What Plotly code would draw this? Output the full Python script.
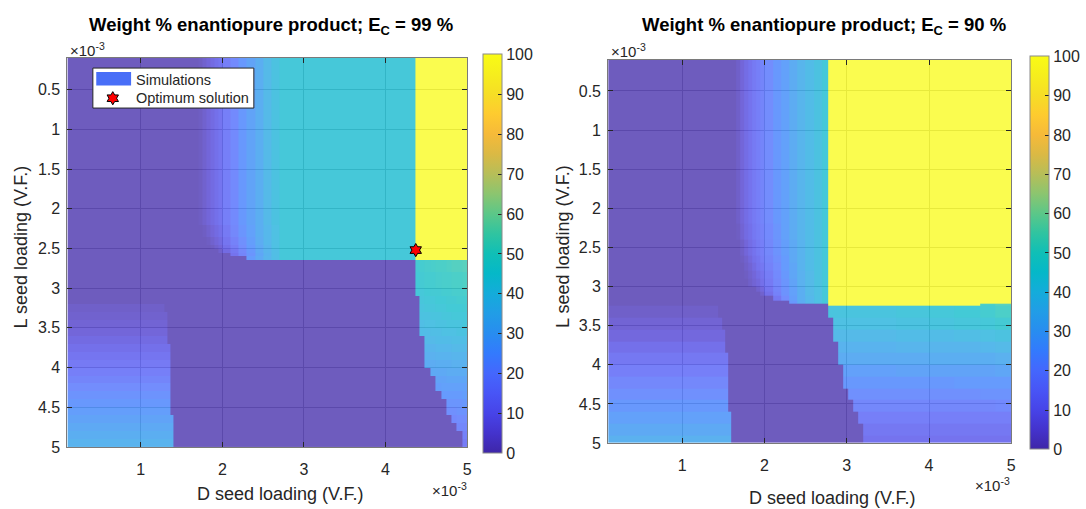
import plotly.graph_objects as go

# ---------------- data (units of 1e-3 volume fraction) ----------------
# Left panel, E_C = 99 %  : cell edges along D (x) and L (y)
d_edges_99 = [0.1, 1.29, 1.33, 1.36, 1.4, 1.6, 1.65, 1.7, 1.75, 1.8, 1.85, 1.9, 1.95, 2.0,
              2.1, 2.2, 2.3, 2.4, 2.5, 2.6, 2.7, 4.36, 4.42, 4.48, 4.55, 4.61, 4.68, 4.74,
              4.81, 4.87, 4.94, 5.0]
l_edges_99 = [0.1, 2.2, 2.35, 2.45, 2.5, 2.55, 2.6, 2.64, 2.8, 3.0, 3.1, 3.2, 3.3, 3.4, 3.5,
              3.6, 3.7, 3.8, 3.9, 4.0, 4.1, 4.2, 4.3, 4.4, 4.5, 4.6, 4.7, 4.8, 4.9, 5.0]
wt_99 = [
    [0,0,0,0,0,0,0,1,3,5,7,9,11,15,19,24,28,32,37,41,44, 100,100,100,100,100,100,100,100,100,100],
    [0,0,0,0,0,0,0,0,1,3,5,7,9,13,18,23,27,32,36,40,44, 100,100,100,100,100,100,100,100,100,100],
    [0,0,0,0,0,0,0,0,0,1,3,5,7,11,16,21,26,31,36,40,44, 100,100,100,100,100,100,100,100,100,100],
    [0,0,0,0,0,0,0,0,0,0,1,3,5,9,14,20,25,30,35,40,44, 100,100,100,100,100,100,100,100,100,100],
    [0,0,0,0,0,0,0,0,0,0,0,0,3,7,12,18,24,30,35,39,44, 100,100,100,100,100,100,100,100,100,100],
    [0,0,0,0,0,0,0,0,0,0,0,0,0,0,10,17,23,29,34,39,44, 100,100,100,100,100,100,100,100,100,100],
    [0,0,0,0,0,0,0,0,0,0,0,0,0,0,0,0,25,30,35,39,44, 100,100,100,100,100,100,100,100,100,100],
    [0,0,0,0, 0,0,0,0,0,0,0,0,0,0,0,0,0,0,0,0,0, 46,47,48,49,50,50,51,52,52,53],
    [0,0,0,0, 0,0,0,0,0,0,0,0,0,0,0,0,0,0,0,0,0, 45,46,47,47,48,49,49,50,50,51],
    [0,0,0,0, 0,0,0,0,0,0,0,0,0,0,0,0,0,0,0,0,0, 44,44,45,46,46,47,47,48,48,49],
    [0,0,0,0, 0,0,0,0,0,0,0,0,0,0,0,0,0,0,0,0,0, 0,43,44,44,45,45,46,46,47,47],
    [2,0,0,0, 0,0,0,0,0,0,0,0,0,0,0,0,0,0,0,0,0, 0,42,43,43,44,44,45,45,45,46],
    [3,3,0,0, 0,0,0,0,0,0,0,0,0,0,0,0,0,0,0,0,0, 0,41,41,42,42,43,43,44,44,44],
    [4,4,0,0, 0,0,0,0,0,0,0,0,0,0,0,0,0,0,0,0,0, 0,39,40,40,41,41,42,42,42,43],
    [5,5,0,0, 0,0,0,0,0,0,0,0,0,0,0,0,0,0,0,0,0, 0,38,38,39,39,40,40,40,41,41],
    [7,7,0,0, 0,0,0,0,0,0,0,0,0,0,0,0,0,0,0,0,0, 0,0,37,37,38,38,38,39,39,39],
    [9,9,9,0, 0,0,0,0,0,0,0,0,0,0,0,0,0,0,0,0,0, 0,0,35,35,36,36,36,37,37,37],
    [11,11,11,0, 0,0,0,0,0,0,0,0,0,0,0,0,0,0,0,0,0, 0,0,33,33,34,34,34,35,35,35],
    [13,13,13,0, 0,0,0,0,0,0,0,0,0,0,0,0,0,0,0,0,0, 0,0,31,31,32,32,32,33,33,33],
    [15,15,15,0, 0,0,0,0,0,0,0,0,0,0,0,0,0,0,0,0,0, 0,0,0,30,30,30,31,31,31,31],
    [17,17,17,0, 0,0,0,0,0,0,0,0,0,0,0,0,0,0,0,0,0, 0,0,0,0,28,28,29,29,29,29],
    [20,20,20,0, 0,0,0,0,0,0,0,0,0,0,0,0,0,0,0,0,0, 0,0,0,0,26,27,27,27,27,27],
    [22,22,22,0, 0,0,0,0,0,0,0,0,0,0,0,0,0,0,0,0,0, 0,0,0,0,0,25,25,25,25,26],
    [24,24,24,0, 0,0,0,0,0,0,0,0,0,0,0,0,0,0,0,0,0, 0,0,0,0,0,0,23,23,23,24],
    [26,26,26,0, 0,0,0,0,0,0,0,0,0,0,0,0,0,0,0,0,0, 0,0,0,0,0,0,21,21,22,22],
    [28,28,28,28, 0,0,0,0,0,0,0,0,0,0,0,0,0,0,0,0,0, 0,0,0,0,0,0,0,19,20,20],
    [30,30,30,30, 0,0,0,0,0,0,0,0,0,0,0,0,0,0,0,0,0, 0,0,0,0,0,0,0,0,18,18],
    [32,32,32,32, 0,0,0,0,0,0,0,0,0,0,0,0,0,0,0,0,0, 0,0,0,0,0,0,0,0,0,16],
    [34,34,34,34, 0,0,0,0,0,0,0,0,0,0,0,0,0,0,0,0,0, 0,0,0,0,0,0,0,0,0,14],
]
opt_d = [4.37]
opt_l = [2.52]

# Right panel, E_C = 90 %
d_edges_90 = [0.1, 1.44, 1.48, 1.52, 1.56, 1.6, 1.65, 1.7, 1.75, 1.8, 1.85, 1.9, 1.95, 2.0,
              2.1, 2.2, 2.3, 2.4, 2.5, 2.6, 2.7, 2.78, 2.84, 2.9, 2.96, 3.02, 3.08, 3.14, 3.2,
              3.26, 3.6, 4.0, 4.3, 4.62, 4.8, 5.0]
l_edges_90 = [0.1, 2.2, 2.4, 2.6, 2.7, 2.8, 2.9, 3.0, 3.06, 3.12, 3.18, 3.22, 3.25, 3.4, 3.55,
              3.7, 3.85, 4.0, 4.15, 4.3, 4.45, 4.6, 4.75, 4.9, 5.0]
wt_90 = [
    [0,0,0,0,0, 0,2,5,8,10,13,15,17,20,24,27,31,35,38,41,44, 100,100,100,100,100,100,100,100,100,100,100,100,100,100],
    [0,0,0,0,0, 0,1,4,7,9,12,14,16,19,23,27,31,35,38,41,44, 100,100,100,100,100,100,100,100,100,100,100,100,100,100],
    [0,0,0,0,0, 0,0,2,5,8,10,13,15,18,22,26,30,34,38,41,44, 100,100,100,100,100,100,100,100,100,100,100,100,100,100],
    [0,0,0,0,0, 0,0,1,3,6,9,11,14,17,21,25,30,34,38,41,44, 100,100,100,100,100,100,100,100,100,100,100,100,100,100],
    [0,0,0,0,0, 0,0,0,2,4,7,10,12,16,20,25,29,34,38,41,44, 100,100,100,100,100,100,100,100,100,100,100,100,100,100],
    [0,0,0,0,0, 0,0,0,1,3,5,8,10,14,19,24,29,33,37,41,44, 100,100,100,100,100,100,100,100,100,100,100,100,100,100],
    [0,0,0,0,0, 0,0,0,0,2,4,6,9,13,18,23,28,33,37,41,44, 100,100,100,100,100,100,100,100,100,100,100,100,100,100],
    [0,0,0,0,0, 0,0,0,0,0,0,3,6,11,17,22,27,32,37,40,44, 100,100,100,100,100,100,100,100,100,100,100,100,100,100],
    [0,0,0,0,0, 0,0,0,0,0,0,0,3,9,16,22,27,32,37,40,44, 100,100,100,100,100,100,100,100,100,100,100,100,100,100],
    [0,0,0,0,0, 0,0,0,0,0,0,0,0,0,12,20,26,32,36,40,44, 100,100,100,100,100,100,100,100,100,100,100,100,100,100],
    [0,0,0,0,0, 0,0,0,0,0,0,0,0,0,0,0,24,31,36,40,44, 100,100,100,100,100,100,100,100,100,100,100,100,100,100],
    [0,0,0,0,0, 0,0,0,0,0,0,0,0,0,0,0,0,0,0,0,0, 100,100,100,100,100,100,100,100,100,100,100,100,50,53],
    [2,0,0,0,0, 0,0,0,0,0,0,0,0,0,0,0,0,0,0,0,0, 42,42,42,42,42,42,42,42,42,43,44,45,47,50],
    [4,4,0,0,0, 0,0,0,0,0,0,0,0,0,0,0,0,0,0,0,0, 0,40,40,40,40,40,40,40,40,41,42,43,44,46],
    [6,6,6,0,0, 0,0,0,0,0,0,0,0,0,0,0,0,0,0,0,0, 0,37,37,37,37,37,37,37,37,38,38,39,40,41],
    [9,9,9,0,0, 0,0,0,0,0,0,0,0,0,0,0,0,0,0,0,0, 0,0,34,34,34,34,34,34,34,35,35,35,36,37],
    [12,12,12,12,0, 0,0,0,0,0,0,0,0,0,0,0,0,0,0,0,0, 0,0,31,31,31,31,31,31,31,31,32,32,32,33],
    [15,15,15,15,0, 0,0,0,0,0,0,0,0,0,0,0,0,0,0,0,0, 0,0,0,27,27,27,27,27,27,28,28,28,28,29],
    [18,18,18,18,0, 0,0,0,0,0,0,0,0,0,0,0,0,0,0,0,0, 0,0,0,24,24,24,24,24,24,24,24,25,25,25],
    [21,21,21,21,0, 0,0,0,0,0,0,0,0,0,0,0,0,0,0,0,0, 0,0,0,0,21,21,21,21,21,21,21,21,22,22],
    [24,24,24,24,0, 0,0,0,0,0,0,0,0,0,0,0,0,0,0,0,0, 0,0,0,0,0,18,18,18,18,18,18,18,18,19],
    [27,27,27,27,27, 0,0,0,0,0,0,0,0,0,0,0,0,0,0,0,0, 0,0,0,0,0,0,15,15,15,15,15,15,15,15],
    [30,30,30,30,30, 0,0,0,0,0,0,0,0,0,0,0,0,0,0,0,0, 0,0,0,0,0,0,0,12,12,12,12,12,12,12],
    [33,33,33,33,33, 0,0,0,0,0,0,0,0,0,0,0,0,0,0,0,0, 0,0,0,0,0,0,0,10,10,10,10,10,10,10],
]

x_ticks = [1, 2, 3, 4, 5]
y_ticks = [0.5, 1, 1.5, 2, 2.5, 3, 3.5, 4, 4.5, 5]
y_tick_text = ["0.5", "1", "1.5", "2", "2.5", "3", "3.5", "4", "4.5", "5"]
cbar_ticks = [0, 10, 20, 30, 40, 50, 60, 70, 80, 90, 100]

# approximate MATLAB parula
parula = [
    [0.00, "rgb(62,38,168)"], [0.05, "rgb(68,51,205)"], [0.10, "rgb(71,68,232)"],
    [0.15, "rgb(72,85,246)"], [0.20, "rgb(68,103,253)"], [0.25, "rgb(51,122,253)"],
    [0.30, "rgb(40,141,240)"], [0.35, "rgb(33,157,230)"], [0.40, "rgb(20,172,218)"],
    [0.45, "rgb(5,184,200)"], [0.50, "rgb(16,191,182)"], [0.55, "rgb(48,196,160)"],
    [0.60, "rgb(92,199,136)"], [0.65, "rgb(140,197,111)"], [0.70, "rgb(183,190,88)"],
    [0.75, "rgb(219,185,68)"], [0.80, "rgb(246,186,57)"], [0.85, "rgb(254,203,47)"],
    [0.90, "rgb(246,222,37)"], [0.95, "rgb(246,238,29)"], [1.00, "rgb(249,251,21)"],
]

W, H = 1086, 509
FONT = "Liberation Sans, Arial, sans-serif"
TXT = "#262626"


def px(x):
    return x / W


def py(y):
    return 1 - y / H


def cbar(x_left, y_top, y_bot):
    return dict(
        x=px(x_left), xanchor="left", xpad=0, ypad=0,
        y=py((y_top + y_bot) / 2), yanchor="middle",
        len=y_bot - y_top, lenmode="pixels", thickness=19, thicknessmode="pixels",
        tickvals=cbar_ticks, ticks="inside", ticklen=4, tickcolor=TXT,
        outlinewidth=1, outlinecolor="#8a8a8a",
        tickfont=dict(family=FONT, size=16, color=TXT),
    )


fig = go.Figure()
fig.add_trace(go.Heatmap(
    x=d_edges_99, y=l_edges_99, z=wt_99, zmin=0, zmax=100, colorscale=parula,
    opacity=0.75, zsmooth=False, hoverinfo="skip", xaxis="x", yaxis="y",
    colorbar=cbar(485, 59, 458)))
fig.add_trace(go.Scatter(
    x=opt_d, y=opt_l, mode="markers", xaxis="x", yaxis="y", showlegend=False,
    marker=dict(symbol="hexagram", size=10, color="#ff0000", line=dict(color="black", width=1))))
fig.add_trace(go.Heatmap(
    x=d_edges_90, y=l_edges_90, z=wt_90, zmin=0, zmax=100, colorscale=parula,
    opacity=0.75, zsmooth=False, hoverinfo="skip", xaxis="x2", yaxis="y2",
    colorbar=cbar(1035, 61, 454)))

# legend glyph for the optimum (on a pixel overlay axis)
fig.add_trace(go.Scatter(
    x=[113.3], y=[100], mode="markers", xaxis="x3", yaxis="y3", showlegend=False,
    hoverinfo="skip",
    marker=dict(symbol="hexagram", size=10, color="#ff0000", line=dict(color="black", width=1))))

axis_common = dict(
    ticks="inside", ticklen=5, tickcolor=TXT, tickwidth=1,
    showline=True, linecolor="#7a7a7a", linewidth=1, mirror="ticks",
    showgrid=True, gridcolor="#b4b4b4", gridwidth=1, zeroline=False,
    tickfont=dict(family=FONT, size=16, color=TXT),
)

fig.update_layout(
    width=W, height=H, margin=dict(l=0, r=0, t=0, b=0),
    paper_bgcolor="white", plot_bgcolor="rgba(0,0,0,0)", showlegend=False,
    xaxis=dict(domain=[px(67.7), px(469.3)], range=[0.1, 5], tickvals=x_ticks,
               anchor="y", ticklabelstandoff=8, **axis_common),
    yaxis=dict(domain=[py(455), py(59)], range=[5, 0.1], tickvals=y_ticks,
               ticktext=y_tick_text, anchor="x", ticklabelstandoff=3, **axis_common),
    xaxis2=dict(domain=[px(611), px(1016)], range=[0.1, 5], tickvals=x_ticks,
                anchor="y2", ticklabelstandoff=8, **axis_common),
    yaxis2=dict(domain=[py(451), py(60.7)], range=[5, 0.1], tickvals=y_ticks,
                ticktext=y_tick_text, anchor="x2", ticklabelstandoff=3, **axis_common),
    xaxis3=dict(domain=[0, 1], range=[0, W], visible=False, anchor="y3", fixedrange=True),
    yaxis3=dict(domain=[0, 1], range=[H, 0], visible=False, anchor="x3", fixedrange=True),
)

# legend box + patch (drawn on the overlay subplot so they sit above the heatmap)
fig.add_shape(type="rect", xref="x3", yref="y3", x0=93.3, x1=255, y0=69.3, y1=110,
              fillcolor="white", line=dict(color=TXT, width=1), layer="below")
fig.add_shape(type="rect", xref="x3", yref="y3", x0=96.7, x1=131.7, y0=73.3, y1=87,
              fillcolor="rgb(72,110,247)", line=dict(width=0), layer="below")

ann = []
title99 = "<b>Weight % enantiopure product; E<sub>C</sub> = 99 %</b>"
title90 = "<b>Weight % enantiopure product; E<sub>C</sub> = 90 %</b>"
ann.append(dict(text=title99, x=px(272), y=py(26), font=dict(size=18.5)))
ann.append(dict(text=title90, x=px(828), y=py(26), font=dict(size=18.5)))
for xc in (21, 565):
    ann.append(dict(text="L seed loading (V.F.)", x=px(xc), y=py(251), textangle=-90,
                    font=dict(size=18)))
ann.append(dict(text="D seed loading (V.F.)", x=px(281), y=py(503), font=dict(size=18)))
ann.append(dict(text="D seed loading (V.F.)", x=px(836), y=py(507), font=dict(size=18)))
for xl, yl in ((68, 50), (612, 51)):
    ann.append(dict(text="×10<sup>-3</sup>", x=px(xl), y=py(yl), xanchor="left",
                    font=dict(size=15)))
for xr, yr in ((471, 498), (1017, 493)):
    ann.append(dict(text="×10<sup>-3</sup>", x=px(xr), y=py(yr), xanchor="right",
                    font=dict(size=15)))
ann.append(dict(text="Simulations", x=px(135), y=py(81), xanchor="left", font=dict(size=14.5)))
ann.append(dict(text="Optimum solution", x=px(135), y=py(100), xanchor="left",
                font=dict(size=14.5)))

for a in ann:
    a.setdefault("xanchor", "center")
    a.setdefault("yanchor", "middle")
    a["xref"] = "paper"
    a["yref"] = "paper"
    a["showarrow"] = False
    f = a["font"]
    f.setdefault("family", FONT)
    f.setdefault("color", "black" if "<b>" in a["text"] else TXT)
fig.update_layout(annotations=ann)

fig.write_html("out.html", config={"displayModeBar": False},
               post_script="document.body.style.margin='0px';")
